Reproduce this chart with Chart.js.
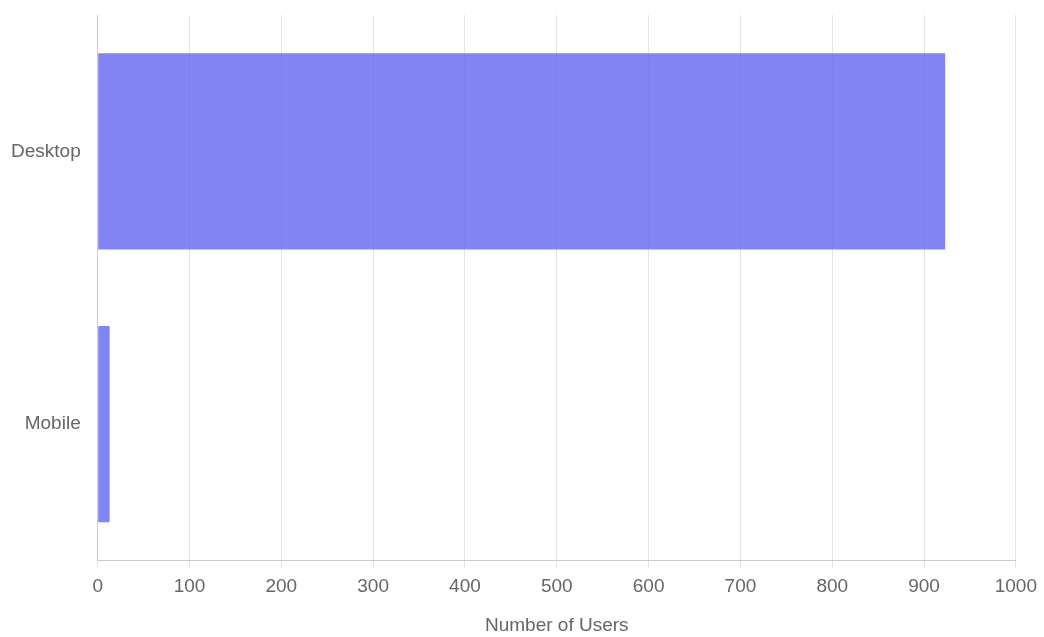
<!DOCTYPE html>
<html>
<head>
<meta charset="utf-8">
<script src="https://cdn.jsdelivr.net/npm/chart.js@4"></script>
<style>
  html, body { margin: 0; padding: 0; background: #fff; }
  #wrap { width: 1044px; height: 637px; }
</style>
</head>
<body>
<div id="wrap"><canvas id="usersChart"></canvas></div>
<script>
const categories = ['Desktop', 'Mobile'];
const userCounts = [923, 13];
const xTicks = [0, 100, 200, 300, 400, 500, 600, 700, 800, 900, 1000];

const textColor = '#666';
const gridColor = '#e5e5e5';
const labelFont = { family: 'Liberation Sans, Arial, sans-serif', size: 19 };

const ctx = document.getElementById('usersChart').getContext('2d');
const usersChart = new Chart(ctx, {
  type: 'bar',
  data: {
    labels: categories,
    datasets: [{
      label: 'Users',
      data: userCounts,
      backgroundColor: 'rgba(99, 102, 241, 0.8)',
      borderWidth: 0
    }]
  },
  options: {
    indexAxis: 'y',
    responsive: true,
    maintainAspectRatio: false,
    animation: false,
    layout: {
      padding: { top: 15, right: 10, left: 2, bottom: 0 }
    },
    plugins: {
      legend: { display: false },
      tooltip: { enabled: false }
    },
    scales: {
      x: {
        min: 0,
        max: 1000,
        afterBuildTicks: scale => {
          scale.ticks = xTicks.map(v => ({ value: v }));
        },
        grid: { color: gridColor },
        border: { color: '#ccc' },
        ticks: {
          color: textColor,
          font: labelFont,
          padding: 7,
          callback: v => String(v)
        },
        title: {
          display: true,
          text: 'Number of Users',
          color: textColor,
          font: labelFont,
          padding: { top: 9, bottom: 0 }
        }
      },
      y: {
        afterFit: scale => {
          scale.paddingTop = 0;
          scale.paddingBottom = 0;
        },
        grid: { display: false },
        border: { color: '#ccc' },
        ticks: {
          color: textColor,
          font: labelFont,
          padding: 9
        }
      }
    }
  }
});
</script>
</body>
</html>
